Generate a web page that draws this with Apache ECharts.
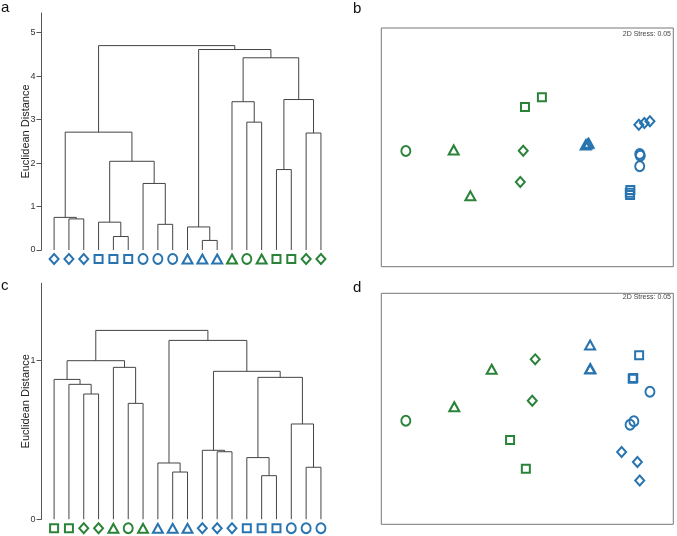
<!DOCTYPE html>
<html><head><meta charset="utf-8">
<script src="https://cdn.jsdelivr.net/npm/echarts@6/dist/echarts.min.js"></script>
<style>html,body{margin:0;padding:0;background:#fff}#c{width:677px;height:536px}</style>
</head><body><div id="c"></div>
<script>
// ---- Panel a: dendrogram ----
const leafShapesA = ['D','D','D','S','S','S','C','C','C','T','T','T','T','C','T','S','S','D','D'];
const leafGroupsA = ['b','b','b','b','b','b','b','b','b','b','b','b','g','g','g','g','g','g','g'];
// [childA, childB, height]; leaves 0..18, merge k -> 19+k
const mergesA = [
  [1,2,0.715],[0,19,0.75],[4,5,0.31],[3,21,0.64],[7,8,0.59],[6,23,1.53],
  [22,24,2.04],[20,25,2.71],[10,11,0.22],[9,27,0.53],[13,14,2.94],[12,29,3.41],
  [15,16,1.85],[17,18,2.69],[31,32,3.46],[30,33,4.42],[28,34,4.61],[26,35,4.70]
];
const ticksA = [0,1,2,3,4,5];

// ---- Panel c: dendrogram ----
const leafShapesC = ['S','S','D','D','T','C','T','T','T','T','D','D','D','S','S','S','C','C','C'];
const leafGroupsC = ['g','g','g','g','g','g','g','b','b','b','b','b','b','b','b','b','b','b','b'];
const mergesC = [
  [2,3,0.79],[1,19,0.851],[0,20,0.882],[5,6,0.731],[4,22,0.958],[21,23,1.0],
  [8,9,0.298],[7,25,0.355],[11,12,0.426],[10,27,0.435],[14,15,0.275],[13,29,0.389],
  [17,18,0.328],[16,31,0.601],[30,32,0.895],[28,33,0.933],[26,34,1.128],[24,35,1.191]
];
const ticksC = [0,1];

// ---- Panel b: NMDS ----
const nmdsShapesB = ['C','T','T','D','D','S','S','T','T','T','D','D','D','C','C','C','S','S','S'];
const nmdsGroupsB = ['g','g','g','g','g','g','g','b','b','b','b','b','b','b','b','b','b','b','b'];
const nmdsXB = [8.4,24.8,30.5,48.6,47.6,49.2,55.0,70.0,70.5,71.0,88.2,90.1,92.0,88.5,88.7,88.5,85.3,85.1,85.2];
const nmdsYB = [48.5,48.9,29.7,48.6,35.5,66.9,71.0,51.0,51.4,51.7,59.5,60.2,60.9,47.2,46.5,42.1,32.1,31.0,30.0];

// ---- Panel d: NMDS ----
const nmdsShapesD = ['C','T','T','D','D','S','S','T','T','T','S','S','S','C','C','C','D','D','D'];
const nmdsGroupsD = ['g','g','g','g','g','g','g','b','b','b','b','b','b','b','b','b','b','b','b'];
const nmdsXD = [8.4,25.0,37.8,52.7,51.7,44.1,49.5,71.5,71.5,71.6,88.3,86.1,86.3,92.0,85.2,86.5,82.3,87.7,88.5];
const nmdsYD = [44.8,50.9,67.1,71.4,53.5,36.5,24.1,77.6,67.2,67.4,73.2,63.0,63.3,57.4,43.1,44.6,31.3,27.0,19.0];

const stressText = '2D Stress: 0.05';
const yTitle = 'Euclidean Distance';

const COLORS = {b:'#2874b0', g:'#2a8339'};
const SYMBOLS = {D:'diamond', S:'rect', C:'circle', T:'triangle'};
const SIZES = {D:[9,10], S:[8,8], C:[9,10], T:[10,9]};
const FONT = '"Liberation Sans", Arial, sans-serif';

function dendroSegments(merges, n) {
  const pos = [], hgt = [];
  for (let i = 0; i < n; i++) { pos.push(i + 1); hgt.push(0); }
  const segs = [];
  merges.forEach(([a, b, h]) => {
    segs.push({coords: [[pos[a], hgt[a]], [pos[a], h], [pos[b], h], [pos[b], hgt[b]]]});
    pos.push((pos[a] + pos[b]) / 2); hgt.push(h);
  });
  return segs;
}
function leafData(shapes, groups) {
  return shapes.map((s, i) => ({
    value: [i + 1, 0], symbol: SYMBOLS[s], symbolSize: SIZES[s],
    itemStyle: {color: 'rgba(255,255,255,0)', borderColor: COLORS[groups[i]], borderWidth: 2, opacity: 1}
  }));
}
function pointData(xs, ys, shapes, groups) {
  return xs.map((x, i) => ({
    value: [x, ys[i]], symbol: SYMBOLS[shapes[i]], symbolSize: SIZES[shapes[i]],
    itemStyle: {color: 'rgba(255,255,255,0)', borderColor: COLORS[groups[i]], borderWidth: 2, opacity: 1}
  }));
}

const grids = [
  {left: 41.5, top: 13, width: 291.3, height: 237},
  {left: 381.3, top: 28, width: 292, height: 238.7, show: true, borderColor: '#777', borderWidth: 1, backgroundColor: '#fff'},
  {left: 41.5, top: 283.3, width: 291.3, height: 236},
  {left: 381.3, top: 293.3, width: 292, height: 231, show: true, borderColor: '#777', borderWidth: 1, backgroundColor: '#fff'}
];
function dendroY(gi, max, ticks) {
  return {
    type: 'value', gridIndex: gi, min: 0, max: max,
    name: yTitle, nameLocation: 'middle', nameGap: 10, nameMoveOverlap: false,
    nameTextStyle: {fontFamily: FONT, fontSize: 11, color: '#222'},
    axisLine: {show: true, lineStyle: {color: '#555', width: 1}},
    axisTick: {show: true, length: 5, customValues: ticks, lineStyle: {color: '#555'}},
    axisLabel: {show: true, customValues: ticks, fontFamily: FONT, fontSize: 9, color: '#333', margin: 6},
    splitLine: {show: false}
  };
}
function hiddenX(gi, min, max) {
  return {type: 'value', gridIndex: gi, min: min, max: max, show: false, splitLine: {show: false}};
}
function hiddenY(gi) {
  return {type: 'value', gridIndex: gi, min: 0, max: 100, show: false, splitLine: {show: false}};
}

const option = {
  animation: false,
  backgroundColor: '#fff',
  grid: grids,
  xAxis: [hiddenX(0, 0.15, 19.8), hiddenX(1, 0, 100), hiddenX(2, 0.15, 19.8), hiddenX(3, 0, 100)],
  yAxis: [dendroY(0, 5.45, ticksA), hiddenY(1), dendroY(2, 1.488, ticksC), hiddenY(3)],
  series: [
    {type: 'lines', coordinateSystem: 'cartesian2d', xAxisIndex: 0, yAxisIndex: 0, polyline: true,
     lineStyle: {color: '#444', width: 1, opacity: 1}, data: dendroSegments(mergesA, leafShapesA.length)},
    {type: 'scatter', xAxisIndex: 0, yAxisIndex: 0, clip: false, symbolOffset: [0, 9],
     data: leafData(leafShapesA, leafGroupsA)},
    {type: 'lines', coordinateSystem: 'cartesian2d', xAxisIndex: 2, yAxisIndex: 2, polyline: true,
     lineStyle: {color: '#444', width: 1, opacity: 1}, data: dendroSegments(mergesC, leafShapesC.length)},
    {type: 'scatter', xAxisIndex: 2, yAxisIndex: 2, clip: false, symbolOffset: [0, 9],
     data: leafData(leafShapesC, leafGroupsC)},
    {type: 'scatter', xAxisIndex: 1, yAxisIndex: 1, data: pointData(nmdsXB, nmdsYB, nmdsShapesB, nmdsGroupsB)},
    {type: 'scatter', xAxisIndex: 3, yAxisIndex: 3, data: pointData(nmdsXD, nmdsYD, nmdsShapesD, nmdsGroupsD)}
  ],
  graphic: [
    {type: 'text', left: 1, top: 0, style: {text: 'a', font: '15px ' + FONT, fill: '#111'}},
    {type: 'text', left: 353, top: 1, style: {text: 'b', font: '15px ' + FONT, fill: '#111'}},
    {type: 'text', left: 1, top: 278, style: {text: 'c', font: '15px ' + FONT, fill: '#111'}},
    {type: 'text', left: 353, top: 280, style: {text: 'd', font: '15px ' + FONT, fill: '#111'}},
    {type: 'text', right: 6, top: 31, style: {text: stressText, font: '7px ' + FONT, fill: '#444'}},
    {type: 'text', right: 6, top: 294, style: {text: stressText, font: '7px ' + FONT, fill: '#444'}}
  ]
};
const chart = echarts.init(document.getElementById('c'), null, {renderer: 'canvas'});
chart.setOption(option);
</script></body></html>
